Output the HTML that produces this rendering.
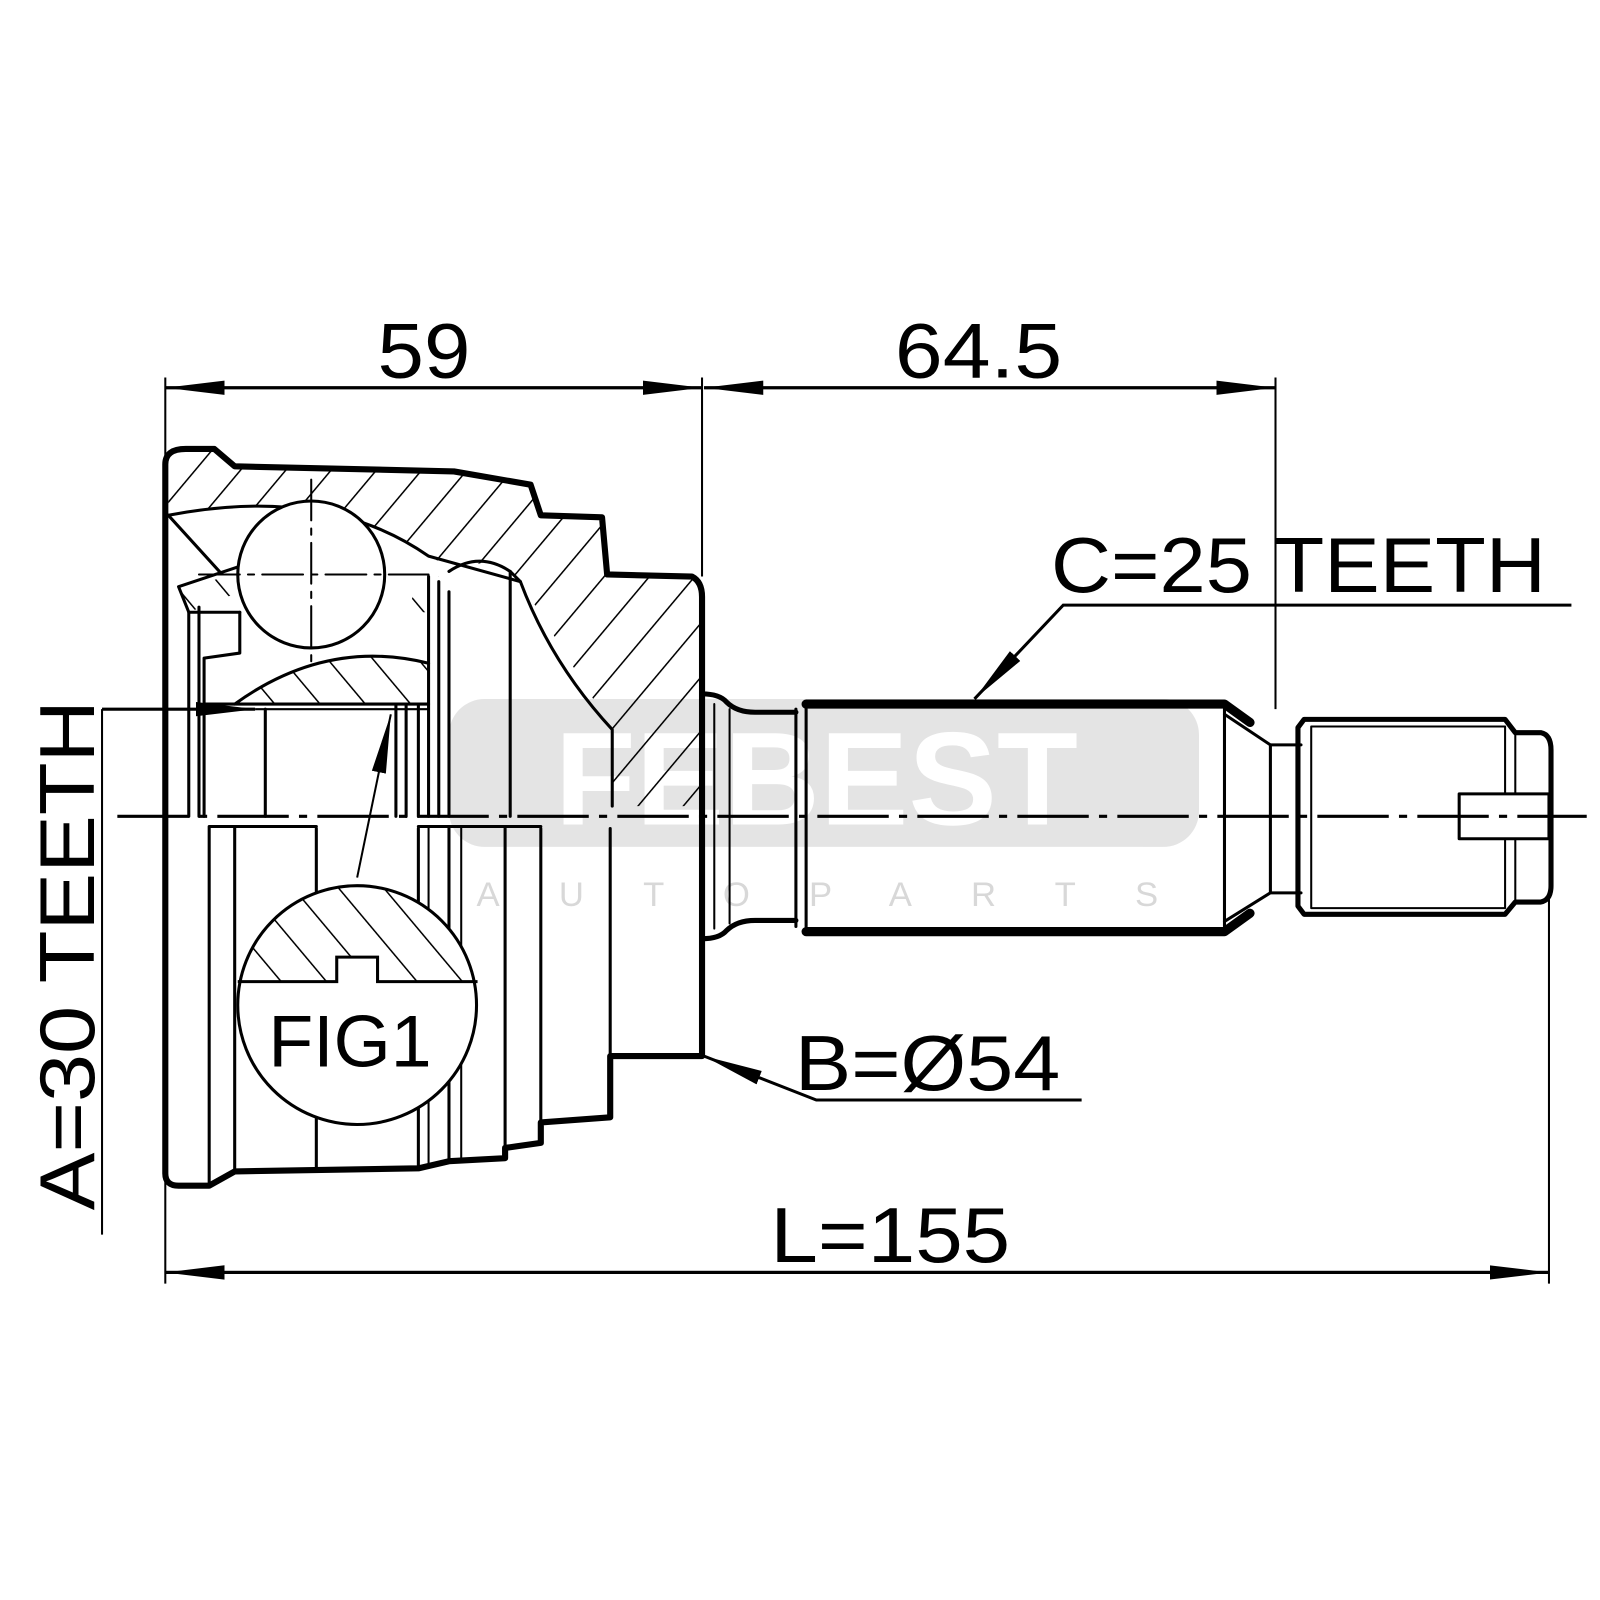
<!DOCTYPE html>
<html><head><meta charset="utf-8"><style>
html,body{margin:0;padding:0;background:#fff;width:1600px;height:1600px;overflow:hidden}
svg{display:block}
text{font-family:"Liberation Sans",Arial,sans-serif;fill:#000}
</style></head><body>
<svg width="1600" height="1600" viewBox="0 0 1600 1600" xmlns="http://www.w3.org/2000/svg">
<defs>
<pattern id="h" patternUnits="userSpaceOnUse" width="34" height="34" patternTransform="rotate(40)">
<line x1="0" y1="0" x2="0" y2="34" stroke="#000" stroke-width="3"/></pattern>
<pattern id="h2" patternUnits="userSpaceOnUse" width="34" height="34" patternTransform="rotate(-40)">
<line x1="0" y1="0" x2="0" y2="34" stroke="#000" stroke-width="3"/></pattern>
<marker id="a" markerWidth="60" markerHeight="20" refX="58" refY="10" orient="auto" markerUnits="userSpaceOnUse">
<path d="M0,3 L58,10 L0,17 Z" fill="#000"/></marker>
<clipPath id="fc"><circle cx="350" cy="985" r="116"/></clipPath>
</defs>
<g transform="scale(1.0204)">
<rect x="440" y="685" width="735" height="145" rx="35" fill="#e4e4e4"/>
<text x="800" y="808" font-size="130" font-weight="bold" text-anchor="middle" style="fill:#fff">FEBEST</text>
<text x="830" y="888" font-size="34" style="fill:#d8d8d8" text-anchor="middle" letter-spacing="58">AUTOPARTS</text>

<path d="M165,455 Q165,440 182,440 L210,440 L230,457 L445,462 L520,475 L530,505 L590,507 L595,563 L678,565 Q688,570 688,585 L688,790 L600,790 L600,715 L510,570 Q480,540 450,560 L420,545 Q320,475 165,505 Z" fill="url(#h)"/>
<path d="M230,690 Q320,625 420,650 L420,690 Z" fill="url(#h2)"/>
<path d="M175,580 L235,560 L235,580 L185,600 Z M410,565 L430,565 L430,600 L400,600 Z" fill="url(#h2)"/>

<g fill="none" stroke="#000" stroke-linecap="round" stroke-linejoin="round">
<path d="M162,1150 L162,455 Q162,440 182,440 L210,440 L230,457 L445,462 L520,475 L530,505 L590,507 L595,563 L678,565 Q688,570 688,585 L688,1035 L598,1035 L598,1095 L530,1100 L530,1120 L495,1125 L495,1135 L440,1138 L410,1145 L230,1148 L205,1162 L175,1162 Q162,1162 162,1150" stroke-width="6"/>
<path d="M165,505 Q320,475 420,545 L510,570 Q540,650 600,715 L600,790" stroke-width="3"/>
<path d="M165,505 L215,560 M175,575 L235,555 M175,575 L185,600 L235,600 M440,560 Q470,540 500,560 L510,570" stroke-width="3"/>
<path d="M440,580 L440,800 M500,560 L500,800 M420,565 L420,800 M430,570 L430,800 M195,595 L195,800 M185,600 L185,800" stroke-width="3"/>
<path d="M235,600 L235,640 L200,645 L200,800 M230,690 Q320,625 420,650 M200,690 L420,690" stroke-width="3"/>
<path d="M260,695 L260,800 M388,690 L388,800 M398,690 L398,800 M410,690 L410,800" stroke-width="3"/>
<path d="M205,810 L205,1162 M230,810 L230,1148 M310,812 L310,1145 M410,812 L410,1145 M440,812 L440,1138 M495,812 L495,1130 M530,812 L530,1120 M598,812 L598,1035 M205,810 L310,810 M410,810 L530,810" stroke-width="3"/>
<path d="M420,810 L420,1140 M452,810 L452,1138" stroke-width="2"/>
<circle cx="305" cy="563" r="72" stroke-width="3" fill="#fff"/>
<path d="M305,470 L305,655 M195,563 L420,563" stroke-width="2" stroke-dasharray="40,8,6,8"/>
<path d="M688,680 Q705,680 712,688 Q722,698 740,698 L780,698 M688,920 Q705,920 712,912 Q722,902 740,902 L780,902" stroke-width="5"/>
<path d="M700,690 L700,910 M715,695 L715,905" stroke-width="2"/>
<path d="M790,690 L1200,690 L1225,708 M790,913 L1200,913 L1225,895" stroke-width="9"/>
<path d="M780,695 L780,908 M790,695 L790,908 M1200,695 L1200,908 M1200,700 L1245,730 L1275,730 M1200,903 L1245,875 L1275,875 M1245,730 L1245,875" stroke-width="3"/>
<path d="M1278,705 L1475,705 L1485,718 L1510,718 Q1520,720 1520,735 L1520,868 Q1520,882 1510,884 L1485,884 L1475,896 L1278,896 L1272,888 L1272,713 Z" stroke-width="5"/>
<path d="M1285,712 L1285,890 M1475,712 L1475,890 M1485,720 L1485,884 M1285,712 L1475,712 M1285,890 L1475,890" stroke-width="2"/>
<rect x="1430" y="778" width="88" height="44" stroke-width="3" fill="#fff"/>
<circle cx="350" cy="985" r="117" stroke-width="3" fill="#fff"/>
</g>
<path d="M230,870 L470,870 L470,962 L370,962 L370,938 L330,938 L330,962 L230,962 Z" fill="url(#h2)" clip-path="url(#fc)"/>
<path d="M233,962 L330,962 L330,938 L370,938 L370,962 L468,962" fill="none" stroke="#000" stroke-width="3"/>
<text x="263" y="1045" font-size="72" textLength="160" lengthAdjust="spacingAndGlyphs">FIG1</text>

<path d="M115,800 L1555,800" stroke="#000" stroke-width="3" stroke-dasharray="70,10,8,10"/>

<g stroke="#000" fill="none">
<path d="M162,370 L162,1258 M688,370 L688,565 M1250,370 L1250,695 M1518,880 L1518,1258 M100,695 L100,1210" stroke-width="2"/>
<path d="M162,380 L688,380" stroke-width="3" marker-end="url(#a)"/>
<path d="M688,380 L162,380" stroke-width="3" marker-end="url(#a)"/>
<path d="M1250,380 L690,380" stroke-width="3" marker-end="url(#a)"/>
<path d="M690,380 L1250,380" stroke-width="3" marker-end="url(#a)"/>
<path d="M162,1247 L1518,1247" stroke-width="3" marker-end="url(#a)"/>
<path d="M1518,1247 L162,1247" stroke-width="3" marker-end="url(#a)"/>
<path d="M100,695 L250,695" stroke-width="3" marker-end="url(#a)"/>
<path d="M250,695 L420,695" stroke-width="2"/>
<path d="M350,860 L383,700" stroke-width="2" marker-end="url(#a)"/>
<path d="M1540,593 L1042,593 L955,685" stroke-width="3" marker-end="url(#a)"/>
<path d="M1060,1078 L800,1078 L690,1035" stroke-width="3" marker-end="url(#a)"/>
</g>
<text x="370" y="370" font-size="76" textLength="91" lengthAdjust="spacingAndGlyphs">59</text>
<text x="877" y="370" font-size="76" textLength="164" lengthAdjust="spacingAndGlyphs">64.5</text>
<text x="1030" y="580" font-size="76" textLength="485" lengthAdjust="spacingAndGlyphs">C=25 TEETH</text>
<text x="779" y="1068" font-size="76" textLength="260" lengthAdjust="spacingAndGlyphs">B=Ø54</text>
<text x="755" y="1237" font-size="76" textLength="235" lengthAdjust="spacingAndGlyphs">L=155</text>
<text transform="translate(92,1186) rotate(-90)" font-size="76" textLength="500" lengthAdjust="spacingAndGlyphs">A=30 TEETH</text>
</g>
</svg>
</body></html>
